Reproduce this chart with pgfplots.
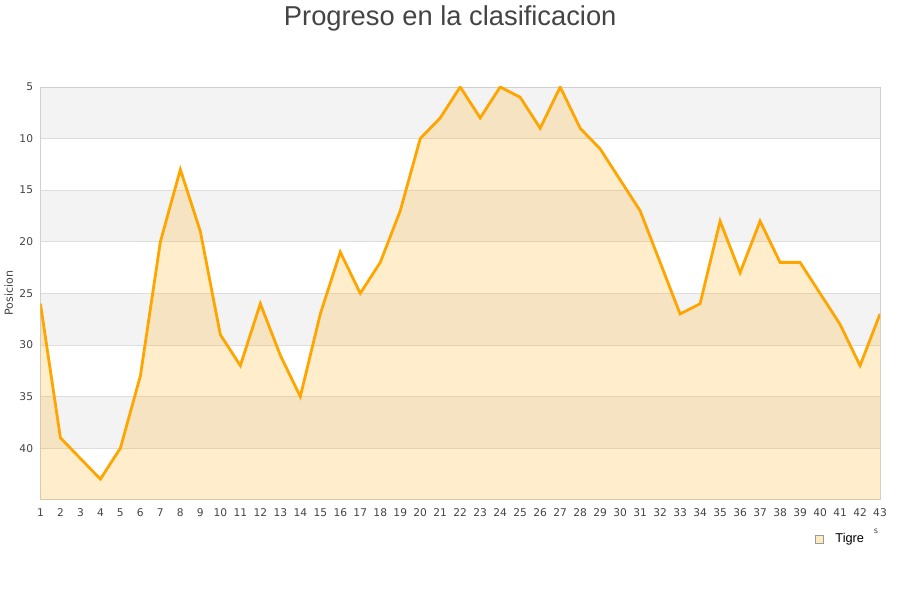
\documentclass[border=0pt]{standalone}
\usepackage{pgfplots}
\pgfplotsset{compat=1.18}
\usepackage{fontspec}
\setmainfont{DejaVu Sans}
\newfontfamily\titlefont{Liberation Sans}

\definecolor{lineorange}{HTML}{FFA500}
\definecolor{band}{HTML}{F3F3F3}
\definecolor{gridc}{HTML}{DDDDDD}
\definecolor{axisc}{HTML}{D0D0D0}
\definecolor{txt}{HTML}{444444}

\pgfplotstableread{
x y
1 26
2 39
3 41
4 43
5 40
6 33
7 20
8 13
9 19
10 29
11 32
12 26
13 31
14 35
15 27
16 21
17 25
18 22
19 17
20 10
21 8
22 5
23 8
24 5
25 6
26 9
27 5
28 9
29 11
30 14
31 17
32 22
33 27
34 26
35 18
36 23
37 18
38 22
39 22
40 25
41 28
42 32
43 27
}\tigre

\begin{document}
\begin{tikzpicture}
\begin{axis}[
    name=main,
    set layers,
    at={(30pt,75pt)}, anchor=south west,
    scale only axis,
    width=630pt, height=309.75pt,
    xmin=1, xmax=43,
    ymin=5, ymax=45,
    y dir=reverse,
    xtick={1,...,43},
    ytick={5,10,...,40},
    axis line style={axisc},
    major tick length=0pt,
    ymajorgrids,
    grid style={gridc, line width=0.6pt},
    tick label style={font=\fontsize{8}{9}\selectfont, text=txt},
    /pgf/number format/assume math mode=true,
    xticklabel style={anchor=base, yshift=-12.5pt},
    yticklabel style={xshift=-2pt},
    ylabel={Posicion},
    ylabel style={font=\fontsize{8.3}{9}\selectfont, text=txt, yshift=-2pt},
]
\addplot[draw=none, fill=band, forget plot, on layer=axis background] coordinates {(1,5) (43,5) (43,10) (1,10)} -- cycle;
\addplot[draw=none, fill=band, forget plot, on layer=axis background] coordinates {(1,15) (43,15) (43,20) (1,20)} -- cycle;
\addplot[draw=none, fill=band, forget plot, on layer=axis background] coordinates {(1,25) (43,25) (43,30) (1,30)} -- cycle;
\addplot[draw=none, fill=band, forget plot, on layer=axis background] coordinates {(1,35) (43,35) (43,40) (1,40)} -- cycle;
\addplot[draw=none, fill=lineorange, fill opacity=0.2, forget plot] table[x=x,y=y] {\tigre} -- (axis cs:43,45) -- (axis cs:1,45) -- cycle;
\addplot[lineorange, line width=2.1pt, forget plot] table[x=x,y=y] {\tigre};
\end{axis}
\path[use as bounding box] (0pt,0pt) rectangle (675pt,450pt);
\node[font=\titlefont\fontsize{20.5}{24}\selectfont, text=txt] at (337.5pt,436pt) {Progreso en la clasificacion};
\fill[lineorange!25] (611.75pt,42.5pt) rectangle (617.75pt,48.5pt);
\draw[gray!80, line width=0.6pt] (611.75pt,42.5pt) rectangle (617.75pt,48.5pt);
\node[anchor=west, font=\titlefont\fontsize{9.6}{11}\selectfont, text=black] at (623pt,45.6pt) {Tigre};
\node[font=\fontsize{6}{7}\selectfont, text=txt] at (657pt,51pt) {s};
\end{tikzpicture}
\end{document}
